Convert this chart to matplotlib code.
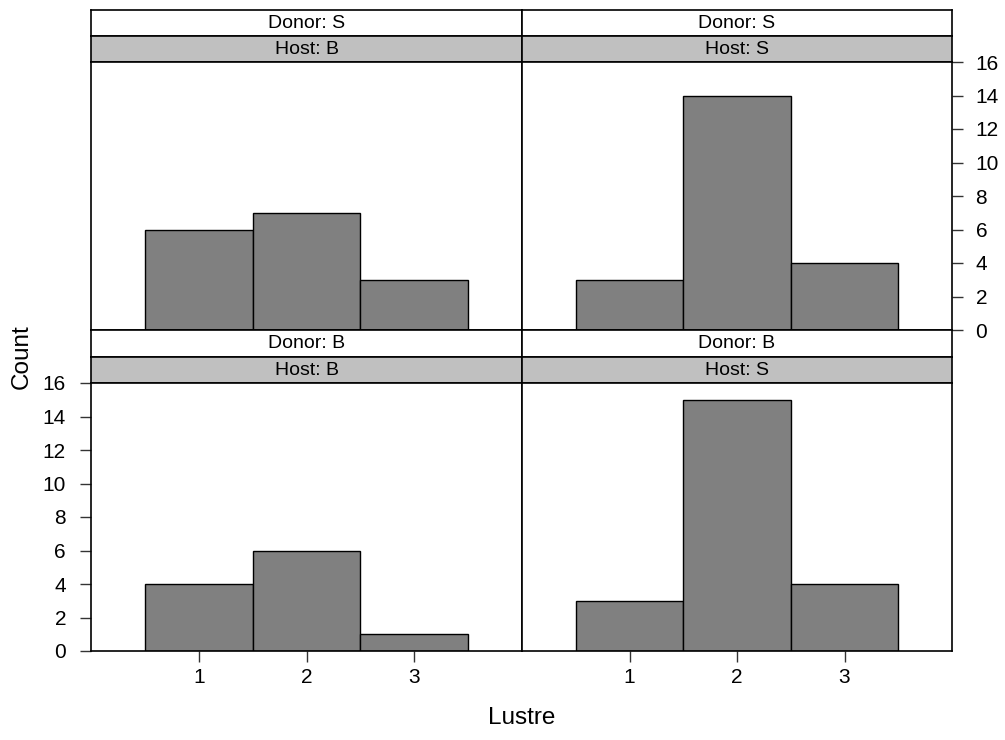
import numpy as np
import matplotlib.pyplot as plt

plt.rcParams['font.family'] = ['Liberation Sans', 'DejaVu Sans']

lustre = [1, 2, 3]
# counts per panel: (donor, host) -> counts for lustre 1,2,3
counts_SB = [6, 7, 3]
counts_SS = [3, 14, 4]
counts_BB = [4, 6, 1]
counts_BS = [3, 15, 4]
yticks = [0, 2, 4, 6, 8, 10, 12, 14, 16]

W, H = 1005, 740
fig = plt.figure(figsize=(W / 100, H / 100), dpi=100)

def px_axes(x0, y0, x1, y1):
    # pixel box (top-left origin) -> figure axes
    return fig.add_axes([x0 / W, 1 - y1 / H, (x1 - x0) / W, (y1 - y0) / H])

def strip(x0, y0, x1, y1, label, color):
    a = px_axes(x0, y0, x1, y1)
    a.set_facecolor(color)
    a.set_xticks([])
    a.set_yticks([])
    for s in a.spines.values():
        s.set_linewidth(1.2)
    a.text(0.5, 0.48, label, ha='center', va='center', fontsize=14,
           transform=a.transAxes)
    return a

def panel(x0, y0, x1, y1, vals, side, bottom):
    ax = px_axes(x0, y0, x1, y1)
    ax.bar(lustre, vals, width=1.0, color='#808080', edgecolor='black',
           linewidth=1.0)
    ax.set_xlim(0, 4)
    ax.set_ylim(0, 16)
    for s in ax.spines.values():
        s.set_linewidth(1.2)
    ax.tick_params(direction='out', length=8, width=1, color='#333333',
                   labelsize=15)
    if side == 'left':
        ax.set_yticks(yticks)
        ax.yaxis.tick_left()
        ax.tick_params(axis='y', pad=10)
    elif side == 'right':
        ax.set_yticks(yticks)
        ax.yaxis.tick_right()
        ax.tick_params(axis='y', pad=9)
    else:
        ax.set_yticks([])
    for lab in ax.get_yticklabels():
        lab.set_va('center_baseline')
    if bottom:
        ax.set_xticks(lustre)
        ax.tick_params(axis='x', pad=4)
    else:
        ax.set_xticks([])
    return ax

xl0, xm, xr1 = 91, 522, 952

# top row: Donor S
strip(xl0, 9.5, xm, 35.5, 'Donor: S', 'white')
strip(xl0, 35.5, xm, 62, 'Host: B', '#C0C0C0')
strip(xm, 9.5, xr1, 35.5, 'Donor: S', 'white')
strip(xm, 35.5, xr1, 62, 'Host: S', '#C0C0C0')
panel(xl0, 62, xm, 330, counts_SB, None, False)
panel(xm, 62, xr1, 330, counts_SS, 'right', False)

# bottom row: Donor B
strip(xl0, 330, xm, 356.5, 'Donor: B', 'white')
strip(xl0, 356.5, xm, 383, 'Host: B', '#C0C0C0')
strip(xm, 330, xr1, 356.5, 'Donor: B', 'white')
strip(xm, 356.5, xr1, 383, 'Host: S', '#C0C0C0')
panel(xl0, 383, xm, 651, counts_BB, 'left', True)
panel(xm, 383, xr1, 651, counts_BS, None, True)

fig.text(22 / W, 1 - 357 / H, 'Count', rotation=90, ha='center', va='center',
         fontsize=17.5)
fig.text(xm / W, 1 - 718 / H, 'Lustre', ha='center', va='center',
         fontsize=17.5)

fig.savefig('out.png', dpi=100)
